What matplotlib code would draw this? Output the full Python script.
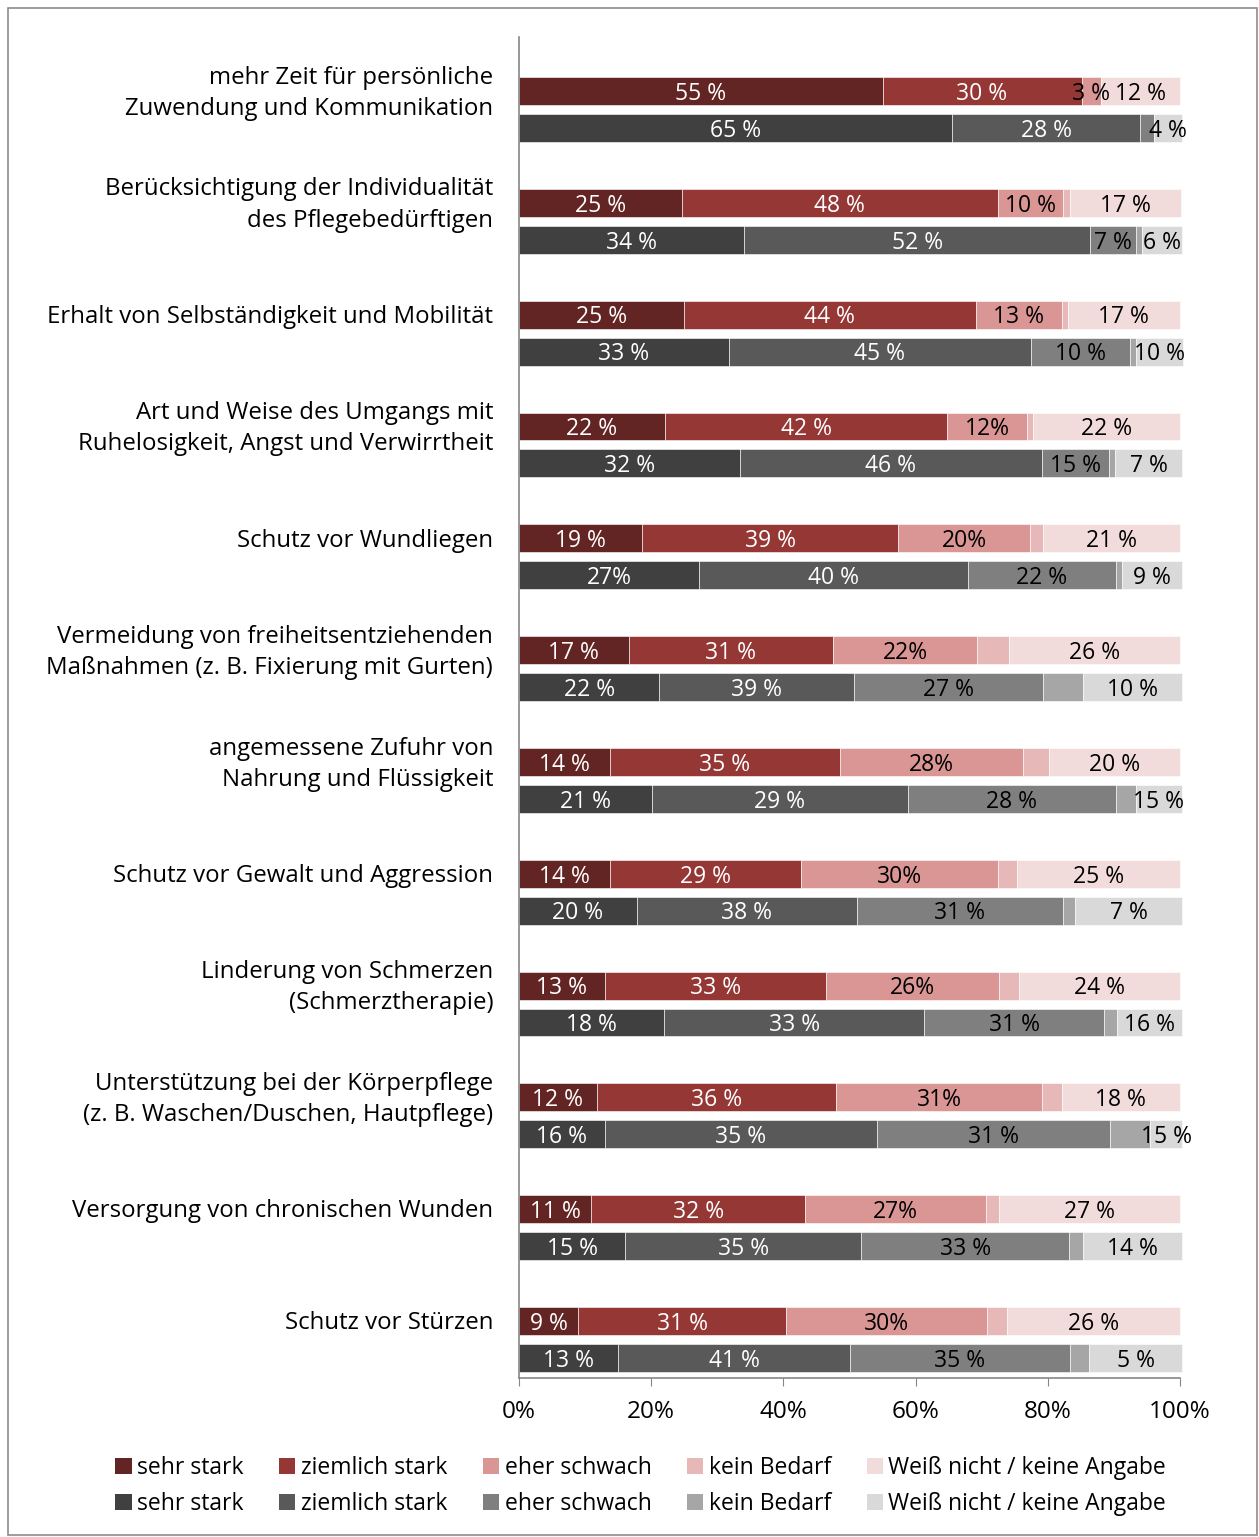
import matplotlib
matplotlib.use("Agg")
import matplotlib.pyplot as plt
from matplotlib.patches import Patch, Rectangle
import numpy as np

plt.rcParams['font.family'] = ['Open Sans', 'DejaVu Sans']

categories = [
    "mehr Zeit für persönliche\nZuwendung und Kommunikation",
    "Berücksichtigung der Individualität\ndes Pflegebedürftigen",
    "Erhalt von Selbständigkeit und Mobilität",
    "Art und Weise des Umgangs mit\nRuhelosigkeit, Angst und Verwirrtheit",
    "Schutz vor Wundliegen",
    "Vermeidung von freiheitsentziehenden\nMaßnahmen (z. B. Fixierung mit Gurten)",
    "angemessene Zufuhr von\nNahrung und Flüssigkeit",
    "Schutz vor Gewalt und Aggression",
    "Linderung von Schmerzen\n(Schmerztherapie)",
    "Unterstützung bei der Körperpflege\n(z. B. Waschen/Duschen, Hautpflege)",
    "Versorgung von chronischen Wunden",
    "Schutz vor Stürzen",
]

segments = ["sehr stark", "ziemlich stark", "eher schwach", "kein Bedarf",
            "Weiß nicht / keine Angabe"]

# red series: one row per category, columns = segments (bar widths)
red_values = [
    [55.0, 30.1, 3.0, 0.0, 11.9],
    [24.7, 47.7, 9.9, 1.0, 16.8],
    [24.9, 44.2, 13.0, 0.9, 17.0],
    [22.1, 42.7, 12.0, 1.0, 22.2],
    [18.6, 38.8, 19.9, 2.0, 20.7],
    [16.6, 30.9, 21.8, 4.9, 25.8],
    [13.7, 34.8, 27.8, 3.9, 19.8],
    [13.7, 28.9, 29.8, 3.0, 24.6],
    [13.0, 33.4, 26.2, 3.1, 24.3],
    [11.8, 36.2, 31.1, 3.0, 17.9],
    [10.9, 32.4, 27.4, 1.9, 27.4],
    [9.0, 31.4, 30.4, 3.0, 26.2],
]
red_labels = [
    ["55 %", "30 %", "3 %", "", "12 %"],
    ["25 %", "48 %", "10 %", "", "17 %"],
    ["25 %", "44 %", "13 %", "", "17 %"],
    ["22 %", "42 %", "12%", "", "22 %"],
    ["19 %", "39 %", "20%", "", "21 %"],
    ["17 %", "31 %", "22%", "", "26 %"],
    ["14 %", "35 %", "28%", "", "20 %"],
    ["14 %", "29 %", "30%", "", "25 %"],
    ["13 %", "33 %", "26%", "", "24 %"],
    ["12 %", "36 %", "31%", "", "18 %"],
    ["11 %", "32 %", "27%", "", "27 %"],
    ["9 %", "31 %", "30%", "", "26 %"],
]

gray_values = [
    [65.5, 28.5, 2.0, 0.0, 4.3],
    [34.1, 52.3, 7.0, 0.9, 6.0],
    [31.7, 45.8, 15.0, 0.9, 7.0],
    [33.4, 45.7, 10.2, 0.9, 10.1],
    [27.3, 40.6, 22.4, 0.9, 9.1],
    [21.2, 29.5, 28.5, 6.1, 15.0],
    [20.1, 38.7, 31.5, 3.0, 7.0],
    [17.8, 33.3, 31.2, 1.8, 16.2],
    [22.0, 39.3, 27.2, 2.0, 9.8],
    [13.0, 41.1, 35.3, 6.1, 4.8],
    [16.1, 35.7, 31.4, 2.1, 15.0],
    [15.0, 35.1, 33.2, 3.0, 14.0],
]
gray_labels = [
    ["65 %", "28 %", "", "", "4 %"],
    ["34 %", "52 %", "7 %", "", "6 %"],
    ["33 %", "45 %", "10 %", "", "10 %"],
    ["32 %", "46 %", "15 %", "", "7 %"],
    ["27%", "40 %", "22 %", "", "9 %"],
    ["22 %", "39 %", "27 %", "", "10 %"],
    ["21 %", "29 %", "28 %", "", "15 %"],
    ["20 %", "38 %", "31 %", "", "7 %"],
    ["18 %", "33 %", "31 %", "", "16 %"],
    ["16 %", "35 %", "31 %", "", "15 %"],
    ["15 %", "35 %", "33 %", "", "14 %"],
    ["13 %", "41 %", "35 %", "", "5 %"],
]

red_colors = ["#632523", "#953735", "#D99694", "#E6B9B8", "#F2DCDB"]
gray_colors = ["#404040", "#595959", "#7F7F7F", "#A6A6A6", "#D9D9D9"]
text_colors = ["white", "white", "black", "black", "black"]

fig = plt.figure(figsize=(12.59, 15.37), dpi=100)
fig.patches.append(Rectangle((8 / 1259, 2 / 1537), 1249 / 1259, 1527 / 1537,
                             transform=fig.transFigure, fill=False,
                             edgecolor="#8c8c8c", linewidth=1.2))

ax = fig.add_axes([519 / 1259, 1 - 1378 / 1537, 661 / 1259, (1378 - 37) / 1537])

n = len(categories)
y = np.arange(n)
off = 0.165
h = 0.25


def draw_bars(values, labels, colors, ypos):
    vals = np.array(values)
    left = np.zeros(n)
    for j in range(vals.shape[1]):
        bars = ax.barh(ypos, vals[:, j], left=left, height=h, color=colors[j],
                       edgecolor="white", linewidth=0.4)
        for b in bars:
            b.set_clip_on(False)
        for i in range(n):
            if labels[i][j]:
                ax.text(left[i] + vals[i, j] / 2, ypos[i] + 0.025, labels[i][j],
                        ha="center", va="center", fontsize=16.5,
                        color=text_colors[j])
        left = left + vals[:, j]


draw_bars(red_values, red_labels, red_colors, y - off)
draw_bars(gray_values, gray_labels, gray_colors, y + off)

ax.set_xlim(0, 100)
ax.set_ylim(n - 1 + 0.344, -0.648)
ax.set_xticks([0, 20, 40, 60, 80, 100])
ax.set_xticklabels(["0%", "20%", "40%", "60%", "80%", "100%"], fontsize=17.5)
ax.tick_params(axis="x", direction="out", length=6, color="#868686", pad=10)
ax.set_yticks([])
for s in ["top", "right"]:
    ax.spines[s].set_visible(False)
for s in ["left", "bottom"]:
    ax.spines[s].set_color("#868686")
    ax.spines[s].set_linewidth(1.2)

for i, cat in enumerate(categories):
    ax.text(-3.9, i - off + 0.02, cat, ha="right", va="center", fontsize=17.3,
            linespacing=1.4)

handles = []
for j in range(5):
    handles.append(Patch(facecolor=red_colors[j], label=segments[j]))
    handles.append(Patch(facecolor=gray_colors[j], label=segments[j]))
fig.legend(handles=handles, ncol=5, loc="center", bbox_to_anchor=(0.509, 1 - 1486 / 1537),
           frameon=False, fontsize=16.5, handlelength=0.7, handleheight=0.7,
           handletextpad=0.25, columnspacing=1.55, labelspacing=0.55)

fig.savefig("out.png", dpi=100)
